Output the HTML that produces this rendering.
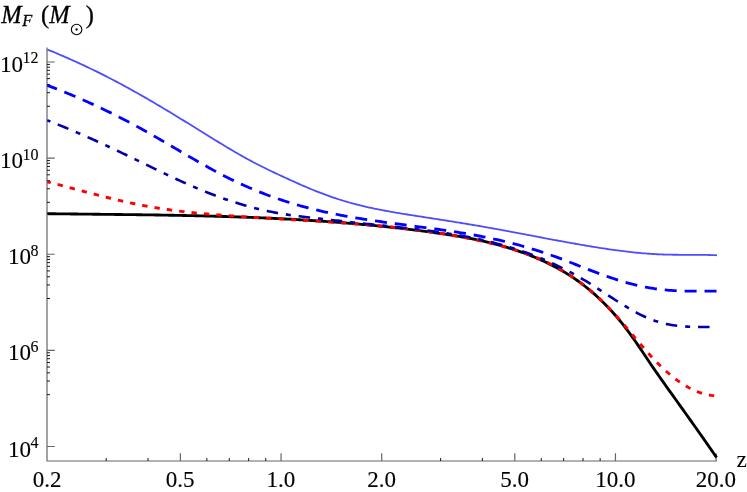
<!DOCTYPE html>
<html lang="en"><head><meta charset="utf-8"><title>M_F vs z</title>
<style>html,body{margin:0;padding:0;background:#fff;}svg{display:block;will-change:transform;}</style></head>
<body><svg width="747" height="492" viewBox="0 0 747 492">
<rect width="747" height="492" fill="#fff"/>
<path d="M47.00,47.40 V461.00 H716.9" fill="none" stroke="#666" stroke-width="1.2"/>
<path d="M47.00,62.00 h7.8 M47.00,158.12 h7.8 M47.00,254.25 h7.8 M47.00,350.38 h7.8 M47.00,446.50 h7.8 M180.40,461.00 v-7.8 M281.06,461.00 v-7.8 M381.72,461.00 v-7.8 M514.79,461.00 v-7.8 M615.45,461.00 v-7.8 M716.11,461.00 v-7.8" fill="none" stroke="#666" stroke-width="1.2"/>
<path d="M47.00,106.26 h3.0 M47.00,92.68 h3.0 M47.00,84.52 h3.0 M47.00,78.67 h3.0 M47.00,74.10 h3.0 M47.00,70.36 h3.0 M47.00,67.19 h3.0 M47.00,64.43 h3.0 M47.00,202.38 h3.0 M47.00,188.80 h3.0 M47.00,180.64 h3.0 M47.00,174.79 h3.0 M47.00,170.23 h3.0 M47.00,166.48 h3.0 M47.00,163.31 h3.0 M47.00,160.56 h3.0 M47.00,298.51 h3.0 M47.00,284.93 h3.0 M47.00,276.77 h3.0 M47.00,270.92 h3.0 M47.00,266.35 h3.0 M47.00,262.61 h3.0 M47.00,259.44 h3.0 M47.00,256.68 h3.0 M47.00,394.63 h3.0 M47.00,381.05 h3.0 M47.00,372.89 h3.0 M47.00,367.04 h3.0 M47.00,362.48 h3.0 M47.00,358.73 h3.0 M47.00,355.56 h3.0 M47.00,352.81 h3.0 M106.21,461.00 v-3.0 M147.99,461.00 v-3.0 M206.87,461.00 v-3.0 M229.26,461.00 v-3.0 M248.65,461.00 v-3.0 M265.76,461.00 v-3.0 M440.60,461.00 v-3.0 M482.38,461.00 v-3.0 M541.26,461.00 v-3.0 M563.65,461.00 v-3.0 M583.04,461.00 v-3.0 M600.15,461.00 v-3.0" fill="none" stroke="#000" stroke-width="0.9"/>
<path d="M47.30,213.70 L49.30,213.72 L51.30,213.74 L53.30,213.77 L55.30,213.79 L57.30,213.82 L59.30,213.84 L61.30,213.86 L63.30,213.89 L65.30,213.91 L67.30,213.93 L69.30,213.95 L71.30,213.98 L73.30,214.00 L75.30,214.02 L77.30,214.04 L79.30,214.06 L81.30,214.09 L83.30,214.11 L85.30,214.13 L87.30,214.15 L89.30,214.17 L91.30,214.19 L93.30,214.21 L95.30,214.24 L97.30,214.26 L99.30,214.28 L101.30,214.30 L103.30,214.32 L105.30,214.34 L107.30,214.37 L109.30,214.39 L111.30,214.41 L113.30,214.43 L115.30,214.46 L117.30,214.48 L119.30,214.50 L121.30,214.52 L123.30,214.55 L125.30,214.57 L127.30,214.60 L129.30,214.62 L131.30,214.65 L133.30,214.67 L135.30,214.70 L137.30,214.72 L139.30,214.75 L141.30,214.78 L143.30,214.80 L145.30,214.83 L147.30,214.86 L149.30,214.89 L151.30,214.92 L153.30,214.95 L155.30,214.98 L157.30,215.01 L159.30,215.04 L161.30,215.07 L163.30,215.11 L165.30,215.14 L167.30,215.17 L169.30,215.21 L171.30,215.24 L173.30,215.28 L175.30,215.32 L177.30,215.36 L179.30,215.39 L181.30,215.43 L183.30,215.47 L185.30,215.51 L187.30,215.56 L189.30,215.60 L191.30,215.64 L193.30,215.69 L195.30,215.73 L197.30,215.78 L199.30,215.82 L201.30,215.87 L203.30,215.92 L205.30,215.97 L207.30,216.02 L209.30,216.07 L211.30,216.13 L213.30,216.18 L215.30,216.23 L217.30,216.29 L219.30,216.35 L221.30,216.41 L223.30,216.47 L225.30,216.53 L227.30,216.59 L229.30,216.65 L231.30,216.72 L233.30,216.78 L235.30,216.85 L237.30,216.92 L239.30,216.98 L241.30,217.05 L243.30,217.13 L245.30,217.20 L247.30,217.27 L249.30,217.35 L251.30,217.43 L253.30,217.51 L255.30,217.59 L257.30,217.67 L259.30,217.75 L261.30,217.83 L263.30,217.92 L265.30,218.01 L267.30,218.10 L269.30,218.19 L271.30,218.28 L273.30,218.37 L275.30,218.47 L277.30,218.56 L279.30,218.66 L281.30,218.76 L283.30,218.86 L285.30,218.97 L287.30,219.07 L289.30,219.18 L291.30,219.29 L293.30,219.40 L295.30,219.51 L297.30,219.62 L299.30,219.74 L301.30,219.86 L303.30,219.97 L305.30,220.10 L307.30,220.22 L309.30,220.34 L311.30,220.47 L313.30,220.60 L315.30,220.73 L317.30,220.86 L319.30,220.99 L321.30,221.13 L323.30,221.27 L325.30,221.41 L327.30,221.55 L329.30,221.70 L331.30,221.84 L333.30,221.99 L335.30,222.14 L337.30,222.30 L339.30,222.45 L341.30,222.61 L343.30,222.77 L345.30,222.93 L347.30,223.09 L349.30,223.26 L351.30,223.43 L353.30,223.60 L355.30,223.77 L357.30,223.94 L359.30,224.12 L361.30,224.30 L363.30,224.48 L365.30,224.67 L367.30,224.85 L369.30,225.04 L371.30,225.23 L373.30,225.43 L375.30,225.62 L377.30,225.82 L379.30,226.02 L381.30,226.23 L383.30,226.43 L385.30,226.64 L387.30,226.85 L389.30,227.07 L391.30,227.29 L393.30,227.50 L395.30,227.73 L397.30,227.95 L399.30,228.18 L401.30,228.41 L403.30,228.64 L405.30,228.87 L407.30,229.11 L409.30,229.35 L411.30,229.60 L413.30,229.84 L415.30,230.09 L417.30,230.34 L419.30,230.60 L421.30,230.86 L423.30,231.12 L425.30,231.38 L427.30,231.65 L429.30,231.91 L431.30,232.19 L433.30,232.46 L435.30,232.74 L437.30,233.02 L439.30,233.31 L441.30,233.59 L443.30,233.89 L445.30,234.19 L447.30,234.49 L449.30,234.80 L451.30,235.11 L453.30,235.43 L455.30,235.76 L457.30,236.09 L459.30,236.43 L461.30,236.77 L463.30,237.13 L465.30,237.49 L467.30,237.86 L469.30,238.24 L471.30,238.62 L473.30,239.02 L475.30,239.42 L477.30,239.84 L479.30,240.26 L481.30,240.70 L483.30,241.14 L485.30,241.60 L487.30,242.07 L489.30,242.55 L491.30,243.04 L493.30,243.54 L495.30,244.06 L497.30,244.59 L499.30,245.13 L501.30,245.68 L503.30,246.25 L505.30,246.83 L507.30,247.43 L509.30,248.04 L511.30,248.67 L513.30,249.31 L515.30,249.97 L517.30,250.64 L519.30,251.34 L521.30,252.04 L523.30,252.77 L525.30,253.51 L527.30,254.26 L529.30,255.04 L531.30,255.84 L533.30,256.65 L535.30,257.48 L537.30,258.33 L539.30,259.20 L541.30,260.09 L543.30,261.00 L545.30,261.93 L547.30,262.89 L549.30,263.86 L551.30,264.86 L553.30,265.89 L555.30,266.94 L557.30,268.02 L559.30,269.13 L561.30,270.27 L563.30,271.43 L565.30,272.63 L567.30,273.86 L569.30,275.12 L571.30,276.42 L573.30,277.74 L575.30,279.11 L577.30,280.51 L579.30,281.95 L581.30,283.43 L583.30,284.94 L585.30,286.50 L587.30,288.10 L589.30,289.74 L591.30,291.42 L593.30,293.15 L595.30,294.92 L597.30,296.73 L599.30,298.60 L601.30,300.51 L603.30,302.47 L605.30,304.48 L607.30,306.54 L609.30,308.65 L611.30,310.82 L613.30,313.03 L615.30,315.31 L617.30,317.63 L619.30,320.02 L621.30,322.46 L623.30,324.95 L625.30,327.51 L627.30,330.13 L629.30,332.81 L631.30,335.55 L633.30,338.35 L635.30,341.21 L637.30,344.13 L639.30,347.08 L641.30,350.06 L643.30,353.06 L645.30,356.06 L647.30,359.05 L649.30,362.02 L651.30,364.96 L653.30,367.88 L655.30,370.78 L657.30,373.65 L659.30,376.51 L661.30,379.35 L663.30,382.18 L665.30,385.00 L667.30,387.81 L669.30,390.61 L671.30,393.40 L673.30,396.20 L675.30,398.99 L677.30,401.78 L679.30,404.57 L681.30,407.37 L683.30,410.17 L685.30,412.97 L687.30,415.78 L689.30,418.59 L691.30,421.40 L693.30,424.22 L695.30,427.04 L697.30,429.87 L699.30,432.71 L701.30,435.55 L703.30,438.39 L705.30,441.25 L707.30,444.11 L709.30,446.97 L711.30,449.85 L713.30,452.73 L715.30,455.62 L716.60,457.50" fill="none" stroke="#000" stroke-width="2.85" stroke-linejoin="round"/>
<path d="M47.30,181.81 L49.30,182.32 L51.30,182.83 L53.30,183.35 L55.30,183.86 L57.30,184.39 L59.30,184.91 L61.30,185.44 L63.30,185.96 L65.30,186.49 L67.30,187.02 L69.30,187.55 L71.30,188.08 L73.30,188.62 L75.30,189.15 L77.30,189.68 L79.30,190.21 L81.30,190.74 L83.30,191.27 L85.30,191.80 L87.30,192.33 L89.30,192.86 L91.30,193.38 L93.30,193.90 L95.30,194.42 L97.30,194.94 L99.30,195.46 L101.30,195.97 L103.30,196.47 L105.30,196.98 L107.30,197.48 L109.30,197.98 L111.30,198.47 L113.30,198.96 L115.30,199.44 L117.30,199.91 L119.30,200.39 L121.30,200.85 L123.30,201.31 L125.30,201.77 L127.30,202.21 L129.30,202.66 L131.30,203.09 L133.30,203.52 L135.30,203.94 L137.30,204.35 L139.30,204.75 L141.30,205.15 L143.30,205.54 L145.30,205.91 L147.30,206.28 L149.30,206.65 L151.30,207.00 L153.30,207.34 L155.30,207.68 L157.30,208.01 L159.30,208.33 L161.30,208.64 L163.30,208.94 L165.30,209.24 L167.30,209.53 L169.30,209.81 L171.30,210.09 L173.30,210.36 L175.30,210.62 L177.30,210.88 L179.30,211.13 L181.30,211.37 L183.30,211.61 L185.30,211.84 L187.30,212.07 L189.30,212.29 L191.30,212.50 L193.30,212.71 L195.30,212.92 L197.30,213.12 L199.30,213.31 L201.30,213.50 L203.30,213.69 L205.30,213.87 L207.30,214.05 L209.30,214.22 L211.30,214.39 L213.30,214.56 L215.30,214.72 L217.30,214.88 L219.30,215.03 L221.30,215.19 L223.30,215.34 L225.30,215.48 L227.30,215.63 L229.30,215.77 L231.30,215.91 L233.30,216.05 L235.30,216.18 L237.30,216.32 L239.30,216.45 L241.30,216.58 L243.30,216.71 L245.30,216.84 L247.30,216.96 L249.30,217.09 L251.30,217.21 L253.30,217.34 L255.30,217.46 L257.30,217.58 L259.30,217.70 L261.30,217.83 L263.30,217.95 L265.30,218.07 L267.30,218.18 L269.30,218.30 L271.30,218.42 L273.30,218.54 L275.30,218.66 L277.30,218.77 L279.30,218.89 L281.30,219.01 L283.30,219.13 L285.30,219.24 L287.30,219.36 L289.30,219.48 L291.30,219.60 L293.30,219.71 L295.30,219.83 L297.30,219.95 L299.30,220.07 L301.30,220.19 L303.30,220.31 L305.30,220.43 L307.30,220.55 L309.30,220.68 L311.30,220.80 L313.30,220.92 L315.30,221.05 L317.30,221.17 L319.30,221.30 L321.30,221.43 L323.30,221.56 L325.30,221.69 L327.30,221.82 L329.30,221.96 L331.30,222.09 L333.30,222.23 L335.30,222.36 L337.30,222.50 L339.30,222.65 L341.30,222.79 L343.30,222.93 L345.30,223.08 L347.30,223.23 L349.30,223.38 L351.30,223.53 L353.30,223.68 L355.30,223.84 L357.30,224.00 L359.30,224.16 L361.30,224.32 L363.30,224.49 L365.30,224.66 L367.30,224.83 L369.30,225.00 L371.30,225.18 L373.30,225.36 L375.30,225.54 L377.30,225.72 L379.30,225.91 L381.30,226.10 L383.30,226.29 L385.30,226.49 L387.30,226.69 L389.30,226.89 L391.30,227.10 L393.30,227.30 L395.30,227.52 L397.30,227.73 L399.30,227.95 L401.30,228.17 L403.30,228.40 L405.30,228.63 L407.30,228.86 L409.30,229.10 L411.30,229.34 L413.30,229.59 L415.30,229.84 L417.30,230.09 L419.30,230.35 L421.30,230.61 L423.30,230.87 L425.30,231.14 L427.30,231.42 L429.30,231.70 L431.30,231.98 L433.30,232.27 L435.30,232.56 L437.30,232.86 L439.30,233.17 L441.30,233.48 L443.30,233.79 L445.30,234.11 L447.30,234.44 L449.30,234.77 L451.30,235.11 L453.30,235.46 L455.30,235.81 L457.30,236.17 L459.30,236.53 L461.30,236.90 L463.30,237.28 L465.30,237.67 L467.30,238.06 L469.30,238.46 L471.30,238.87 L473.30,239.28 L475.30,239.70 L477.30,240.13 L479.30,240.57 L481.30,241.02 L483.30,241.47 L485.30,241.93 L487.30,242.41 L489.30,242.89 L491.30,243.37 L493.30,243.87 L495.30,244.38 L497.30,244.89 L499.30,245.42 L501.30,245.95 L503.30,246.50 L505.30,247.05 L507.30,247.62 L509.30,248.20 L511.30,248.79 L513.30,249.39 L515.30,250.01 L517.30,250.65 L519.30,251.30 L521.30,251.96 L523.30,252.65 L525.30,253.35 L527.30,254.07 L529.30,254.81 L531.30,255.57 L533.30,256.35 L535.30,257.15 L537.30,257.98 L539.30,258.83 L541.30,259.70 L543.30,260.60 L545.30,261.52 L547.30,262.47 L549.30,263.44 L551.30,264.45 L553.30,265.48 L555.30,266.54 L557.30,267.63 L559.30,268.75 L561.30,269.90 L563.30,271.09 L565.30,272.30 L567.30,273.55 L569.30,274.84 L571.30,276.16 L573.30,277.51 L575.30,278.91 L577.30,280.34 L579.30,281.80 L581.30,283.31 L583.30,284.85 L585.30,286.43 L587.30,288.06 L589.30,289.72 L591.30,291.42 L593.30,293.16 L595.30,294.93 L597.30,296.75 L599.30,298.61 L601.30,300.50 L603.30,302.43 L605.30,304.41 L607.30,306.42 L609.30,308.47 L611.30,310.56 L613.30,312.69 L615.30,314.85 L617.30,317.06 L619.30,319.30 L621.30,321.58 L623.30,323.89 L625.30,326.23 L627.30,328.58 L629.30,330.95 L631.30,333.33 L633.30,335.71 L635.30,338.09 L637.30,340.47 L639.30,342.83 L641.30,345.18 L643.30,347.50 L645.30,349.80 L647.30,352.07 L649.30,354.30 L651.30,356.49 L653.30,358.64 L655.30,360.73 L657.30,362.78 L659.30,364.78 L661.30,366.73 L663.30,368.63 L665.30,370.48 L667.30,372.27 L669.30,374.00 L671.30,375.68 L673.30,377.30 L675.30,378.85 L677.30,380.35 L679.30,381.78 L681.30,383.14 L683.30,384.44 L685.30,385.68 L687.30,386.84 L689.30,387.93 L691.30,388.95 L693.30,389.91 L695.30,390.79 L697.30,391.60 L699.30,392.34 L701.30,393.01 L703.30,393.62 L705.30,394.15 L707.30,394.62 L709.30,395.02 L711.30,395.36 L713.30,395.62 L715.30,395.82 L717.00,395.94" fill="none" stroke="#ff0000" stroke-width="2.9" stroke-dasharray="5.4 7.054" stroke-dashoffset="1.83" stroke-linejoin="round"/>
<path d="M47.30,120.31 L49.30,121.09 L51.30,121.88 L53.30,122.67 L55.30,123.47 L57.30,124.28 L59.30,125.09 L61.30,125.91 L63.30,126.73 L65.30,127.55 L67.30,128.39 L69.30,129.22 L71.30,130.06 L73.30,130.91 L75.30,131.76 L77.30,132.62 L79.30,133.48 L81.30,134.35 L83.30,135.22 L85.30,136.09 L87.30,136.97 L89.30,137.86 L91.30,138.75 L93.30,139.64 L95.30,140.54 L97.30,141.44 L99.30,142.35 L101.30,143.26 L103.30,144.18 L105.30,145.10 L107.30,146.02 L109.30,146.95 L111.30,147.88 L113.30,148.82 L115.30,149.76 L117.30,150.70 L119.30,151.65 L121.30,152.60 L123.30,153.56 L125.30,154.52 L127.30,155.48 L129.30,156.45 L131.30,157.41 L133.30,158.38 L135.30,159.36 L137.30,160.33 L139.30,161.30 L141.30,162.28 L143.30,163.25 L145.30,164.23 L147.30,165.20 L149.30,166.18 L151.30,167.15 L153.30,168.12 L155.30,169.09 L157.30,170.06 L159.30,171.02 L161.30,171.98 L163.30,172.94 L165.30,173.90 L167.30,174.85 L169.30,175.79 L171.30,176.73 L173.30,177.67 L175.30,178.60 L177.30,179.53 L179.30,180.44 L181.30,181.36 L183.30,182.26 L185.30,183.16 L187.30,184.05 L189.30,184.93 L191.30,185.80 L193.30,186.67 L195.30,187.52 L197.30,188.37 L199.30,189.21 L201.30,190.03 L203.30,190.85 L205.30,191.66 L207.30,192.45 L209.30,193.24 L211.30,194.02 L213.30,194.78 L215.30,195.54 L217.30,196.28 L219.30,197.01 L221.30,197.74 L223.30,198.45 L225.30,199.15 L227.30,199.83 L229.30,200.51 L231.30,201.18 L233.30,201.83 L235.30,202.47 L237.30,203.10 L239.30,203.72 L241.30,204.32 L243.30,204.92 L245.30,205.50 L247.30,206.06 L249.30,206.62 L251.30,207.16 L253.30,207.69 L255.30,208.21 L257.30,208.71 L259.30,209.20 L261.30,209.67 L263.30,210.14 L265.30,210.59 L267.30,211.02 L269.30,211.44 L271.30,211.85 L273.30,212.24 L275.30,212.62 L277.30,212.98 L279.30,213.33 L281.30,213.67 L283.30,214.00 L285.30,214.32 L287.30,214.63 L289.30,214.93 L291.30,215.21 L293.30,215.49 L295.30,215.77 L297.30,216.03 L299.30,216.29 L301.30,216.54 L303.30,216.79 L305.30,217.03 L307.30,217.26 L309.30,217.50 L311.30,217.73 L313.30,217.96 L315.30,218.18 L317.30,218.41 L319.30,218.63 L321.30,218.85 L323.30,219.08 L325.30,219.30 L327.30,219.53 L329.30,219.75 L331.30,219.97 L333.30,220.20 L335.30,220.42 L337.30,220.65 L339.30,220.87 L341.30,221.09 L343.30,221.32 L345.30,221.54 L347.30,221.76 L349.30,221.98 L351.30,222.20 L353.30,222.42 L355.30,222.64 L357.30,222.86 L359.30,223.07 L361.30,223.29 L363.30,223.50 L365.30,223.72 L367.30,223.93 L369.30,224.14 L371.30,224.35 L373.30,224.56 L375.30,224.77 L377.30,224.98 L379.30,225.18 L381.30,225.39 L383.30,225.60 L385.30,225.80 L387.30,226.01 L389.30,226.22 L391.30,226.43 L393.30,226.64 L395.30,226.85 L397.30,227.06 L399.30,227.27 L401.30,227.49 L403.30,227.70 L405.30,227.92 L407.30,228.14 L409.30,228.37 L411.30,228.59 L413.30,228.82 L415.30,229.05 L417.30,229.29 L419.30,229.53 L421.30,229.77 L423.30,230.02 L425.30,230.27 L427.30,230.52 L429.30,230.78 L431.30,231.05 L433.30,231.32 L435.30,231.59 L437.30,231.87 L439.30,232.15 L441.30,232.44 L443.30,232.74 L445.30,233.04 L447.30,233.35 L449.30,233.67 L451.30,233.99 L453.30,234.32 L455.30,234.65 L457.30,234.99 L459.30,235.34 L461.30,235.70 L463.30,236.07 L465.30,236.44 L467.30,236.82 L469.30,237.21 L471.30,237.61 L473.30,238.02 L475.30,238.44 L477.30,238.86 L479.30,239.30 L481.30,239.74 L483.30,240.20 L485.30,240.66 L487.30,241.14 L489.30,241.62 L491.30,242.12 L493.30,242.62 L495.30,243.14 L497.30,243.67 L499.30,244.21 L501.30,244.76 L503.30,245.32 L505.30,245.90 L507.30,246.49 L509.30,247.08 L511.30,247.70 L513.30,248.32 L515.30,248.96 L517.30,249.61 L519.30,250.27 L521.30,250.95 L523.30,251.64 L525.30,252.34 L527.30,253.06 L529.30,253.79 L531.30,254.53 L533.30,255.29 L535.30,256.07 L537.30,256.86 L539.30,257.66 L541.30,258.48 L543.30,259.31 L545.30,260.16 L547.30,261.03 L549.30,261.91 L551.30,262.81 L553.30,263.73 L555.30,264.66 L557.30,265.60 L559.30,266.57 L561.30,267.55 L563.30,268.55 L565.30,269.56 L567.30,270.60 L569.30,271.65 L571.30,272.72 L573.30,273.80 L575.30,274.91 L577.30,276.03 L579.30,277.17 L581.30,278.34 L583.30,279.52 L585.30,280.72 L587.30,281.93 L589.30,283.17 L591.30,284.42 L593.30,285.69 L595.30,286.97 L597.30,288.26 L599.30,289.55 L601.30,290.86 L603.30,292.16 L605.30,293.47 L607.30,294.78 L609.30,296.08 L611.30,297.39 L613.30,298.68 L615.30,299.97 L617.30,301.25 L619.30,302.51 L621.30,303.76 L623.30,305.00 L625.30,306.22 L627.30,307.41 L629.30,308.59 L631.30,309.74 L633.30,310.86 L635.30,311.96 L637.30,313.03 L639.30,314.06 L641.30,315.06 L643.30,316.03 L645.30,316.95 L647.30,317.84 L649.30,318.68 L651.30,319.48 L653.30,320.23 L655.30,320.94 L657.30,321.59 L659.30,322.20 L661.30,322.76 L663.30,323.27 L665.30,323.74 L667.30,324.17 L669.30,324.56 L671.30,324.91 L673.30,325.22 L675.30,325.50 L677.30,325.75 L679.30,325.97 L681.30,326.16 L683.30,326.33 L685.30,326.47 L687.30,326.58 L689.30,326.68 L691.30,326.76 L693.30,326.82 L695.30,326.87 L697.30,326.90 L699.30,326.93 L701.30,326.94 L703.30,326.95 L705.30,326.95 L707.30,326.95 L709.30,326.95 L711.30,326.95 L713.30,326.95 L715.30,326.95 L717.00,326.96" fill="none" stroke="#0000aa" stroke-width="2.6" stroke-dasharray="11.5 7.935 5 7.935" stroke-dashoffset="21.1" stroke-linejoin="round"/>
<path d="M47.30,85.31 L49.30,86.07 L51.30,86.84 L53.30,87.61 L55.30,88.39 L57.30,89.17 L59.30,89.97 L61.30,90.77 L63.30,91.58 L65.30,92.39 L67.30,93.21 L69.30,94.04 L71.30,94.88 L73.30,95.72 L75.30,96.57 L77.30,97.42 L79.30,98.29 L81.30,99.16 L83.30,100.04 L85.30,100.92 L87.30,101.82 L89.30,102.72 L91.30,103.63 L93.30,104.54 L95.30,105.46 L97.30,106.39 L99.30,107.33 L101.30,108.28 L103.30,109.23 L105.30,110.19 L107.30,111.16 L109.30,112.13 L111.30,113.12 L113.30,114.11 L115.30,115.11 L117.30,116.11 L119.30,117.13 L121.30,118.15 L123.30,119.18 L125.30,120.22 L127.30,121.27 L129.30,122.32 L131.30,123.38 L133.30,124.45 L135.30,125.53 L137.30,126.62 L139.30,127.71 L141.30,128.82 L143.30,129.93 L145.30,131.05 L147.30,132.17 L149.30,133.30 L151.30,134.44 L153.30,135.59 L155.30,136.74 L157.30,137.89 L159.30,139.05 L161.30,140.21 L163.30,141.37 L165.30,142.54 L167.30,143.71 L169.30,144.88 L171.30,146.06 L173.30,147.23 L175.30,148.40 L177.30,149.58 L179.30,150.75 L181.30,151.92 L183.30,153.09 L185.30,154.26 L187.30,155.43 L189.30,156.59 L191.30,157.75 L193.30,158.90 L195.30,160.05 L197.30,161.20 L199.30,162.34 L201.30,163.47 L203.30,164.60 L205.30,165.72 L207.30,166.83 L209.30,167.93 L211.30,169.03 L213.30,170.12 L215.30,171.19 L217.30,172.26 L219.30,173.32 L221.30,174.36 L223.30,175.40 L225.30,176.42 L227.30,177.43 L229.30,178.43 L231.30,179.41 L233.30,180.38 L235.30,181.34 L237.30,182.29 L239.30,183.22 L241.30,184.14 L243.30,185.05 L245.30,185.94 L247.30,186.82 L249.30,187.69 L251.30,188.54 L253.30,189.39 L255.30,190.22 L257.30,191.04 L259.30,191.84 L261.30,192.64 L263.30,193.42 L265.30,194.19 L267.30,194.94 L269.30,195.69 L271.30,196.42 L273.30,197.15 L275.30,197.86 L277.30,198.55 L279.30,199.24 L281.30,199.92 L283.30,200.58 L285.30,201.23 L287.30,201.87 L289.30,202.50 L291.30,203.12 L293.30,203.73 L295.30,204.32 L297.30,204.91 L299.30,205.48 L301.30,206.04 L303.30,206.60 L305.30,207.14 L307.30,207.67 L309.30,208.19 L311.30,208.70 L313.30,209.20 L315.30,209.69 L317.30,210.17 L319.30,210.64 L321.30,211.11 L323.30,211.56 L325.30,212.01 L327.30,212.44 L329.30,212.87 L331.30,213.29 L333.30,213.70 L335.30,214.11 L337.30,214.50 L339.30,214.89 L341.30,215.28 L343.30,215.65 L345.30,216.02 L347.30,216.38 L349.30,216.74 L351.30,217.09 L353.30,217.43 L355.30,217.77 L357.30,218.10 L359.30,218.43 L361.30,218.75 L363.30,219.07 L365.30,219.38 L367.30,219.69 L369.30,220.00 L371.30,220.30 L373.30,220.59 L375.30,220.89 L377.30,221.18 L379.30,221.46 L381.30,221.74 L383.30,222.02 L385.30,222.30 L387.30,222.58 L389.30,222.85 L391.30,223.12 L393.30,223.39 L395.30,223.65 L397.30,223.92 L399.30,224.18 L401.30,224.45 L403.30,224.71 L405.30,224.97 L407.30,225.23 L409.30,225.49 L411.30,225.75 L413.30,226.01 L415.30,226.27 L417.30,226.54 L419.30,226.80 L421.30,227.06 L423.30,227.33 L425.30,227.59 L427.30,227.86 L429.30,228.13 L431.30,228.40 L433.30,228.67 L435.30,228.95 L437.30,229.23 L439.30,229.51 L441.30,229.79 L443.30,230.08 L445.30,230.37 L447.30,230.66 L449.30,230.96 L451.30,231.26 L453.30,231.57 L455.30,231.88 L457.30,232.19 L459.30,232.51 L461.30,232.83 L463.30,233.16 L465.30,233.49 L467.30,233.83 L469.30,234.18 L471.30,234.53 L473.30,234.89 L475.30,235.25 L477.30,235.62 L479.30,236.00 L481.30,236.38 L483.30,236.77 L485.30,237.17 L487.30,237.57 L489.30,237.99 L491.30,238.41 L493.30,238.84 L495.30,239.27 L497.30,239.72 L499.30,240.17 L501.30,240.63 L503.30,241.11 L505.30,241.59 L507.30,242.08 L509.30,242.58 L511.30,243.08 L513.30,243.60 L515.30,244.13 L517.30,244.66 L519.30,245.21 L521.30,245.76 L523.30,246.33 L525.30,246.90 L527.30,247.48 L529.30,248.07 L531.30,248.68 L533.30,249.29 L535.30,249.91 L537.30,250.54 L539.30,251.18 L541.30,251.84 L543.30,252.50 L545.30,253.17 L547.30,253.85 L549.30,254.54 L551.30,255.25 L553.30,255.96 L555.30,256.68 L557.30,257.42 L559.30,258.16 L561.30,258.91 L563.30,259.67 L565.30,260.44 L567.30,261.22 L569.30,262.00 L571.30,262.78 L573.30,263.57 L575.30,264.36 L577.30,265.15 L579.30,265.94 L581.30,266.73 L583.30,267.52 L585.30,268.30 L587.30,269.09 L589.30,269.86 L591.30,270.63 L593.30,271.40 L595.30,272.16 L597.30,272.90 L599.30,273.64 L601.30,274.37 L603.30,275.10 L605.30,275.81 L607.30,276.51 L609.30,277.19 L611.30,277.87 L613.30,278.54 L615.30,279.19 L617.30,279.83 L619.30,280.45 L621.30,281.06 L623.30,281.66 L625.30,282.24 L627.30,282.80 L629.30,283.35 L631.30,283.89 L633.30,284.40 L635.30,284.90 L637.30,285.38 L639.30,285.84 L641.30,286.28 L643.30,286.70 L645.30,287.10 L647.30,287.48 L649.30,287.84 L651.30,288.18 L653.30,288.49 L655.30,288.79 L657.30,289.06 L659.30,289.31 L661.30,289.55 L663.30,289.77 L665.30,289.96 L667.30,290.14 L669.30,290.31 L671.30,290.45 L673.30,290.59 L675.30,290.70 L677.30,290.81 L679.30,290.90 L681.30,290.97 L683.30,291.04 L685.30,291.09 L687.30,291.13 L689.30,291.16 L691.30,291.19 L693.30,291.21 L695.30,291.22 L697.30,291.22 L699.30,291.22 L701.30,291.22 L703.30,291.21 L705.30,291.20 L707.30,291.19 L709.30,291.18 L711.30,291.18 L713.30,291.17 L715.30,291.16 L717.00,291.16" fill="none" stroke="#0000ff" stroke-width="2.8" stroke-dasharray="12 7.934" stroke-dashoffset="1.64" stroke-linejoin="round"/>
<path d="M47.30,49.49 L49.30,50.30 L51.30,51.12 L53.30,51.95 L55.30,52.78 L57.30,53.62 L59.30,54.47 L61.30,55.32 L63.30,56.18 L65.30,57.05 L67.30,57.92 L69.30,58.81 L71.30,59.70 L73.30,60.59 L75.30,61.50 L77.30,62.41 L79.30,63.33 L81.30,64.25 L83.30,65.18 L85.30,66.12 L87.30,67.07 L89.30,68.02 L91.30,68.99 L93.30,69.95 L95.30,70.93 L97.30,71.91 L99.30,72.90 L101.30,73.90 L103.30,74.90 L105.30,75.91 L107.30,76.93 L109.30,77.96 L111.30,78.99 L113.30,80.03 L115.30,81.08 L117.30,82.14 L119.30,83.20 L121.30,84.27 L123.30,85.35 L125.30,86.43 L127.30,87.52 L129.30,88.62 L131.30,89.73 L133.30,90.84 L135.30,91.96 L137.30,93.08 L139.30,94.22 L141.30,95.36 L143.30,96.50 L145.30,97.65 L147.30,98.81 L149.30,99.97 L151.30,101.14 L153.30,102.31 L155.30,103.49 L157.30,104.67 L159.30,105.85 L161.30,107.04 L163.30,108.24 L165.30,109.44 L167.30,110.64 L169.30,111.85 L171.30,113.06 L173.30,114.27 L175.30,115.49 L177.30,116.71 L179.30,117.93 L181.30,119.15 L183.30,120.38 L185.30,121.61 L187.30,122.84 L189.30,124.07 L191.30,125.31 L193.30,126.54 L195.30,127.78 L197.30,129.02 L199.30,130.26 L201.30,131.50 L203.30,132.74 L205.30,133.98 L207.30,135.22 L209.30,136.45 L211.30,137.69 L213.30,138.93 L215.30,140.16 L217.30,141.38 L219.30,142.61 L221.30,143.82 L223.30,145.04 L225.30,146.24 L227.30,147.44 L229.30,148.64 L231.30,149.82 L233.30,151.00 L235.30,152.17 L237.30,153.33 L239.30,154.47 L241.30,155.61 L243.30,156.74 L245.30,157.85 L247.30,158.95 L249.30,160.04 L251.30,161.12 L253.30,162.18 L255.30,163.22 L257.30,164.26 L259.30,165.28 L261.30,166.29 L263.30,167.29 L265.30,168.28 L267.30,169.25 L269.30,170.22 L271.30,171.19 L273.30,172.14 L275.30,173.09 L277.30,174.03 L279.30,174.96 L281.30,175.89 L283.30,176.82 L285.30,177.74 L287.30,178.66 L289.30,179.57 L291.30,180.48 L293.30,181.39 L295.30,182.29 L297.30,183.18 L299.30,184.07 L301.30,184.95 L303.30,185.82 L305.30,186.68 L307.30,187.53 L309.30,188.38 L311.30,189.21 L313.30,190.03 L315.30,190.84 L317.30,191.64 L319.30,192.43 L321.30,193.20 L323.30,193.96 L325.30,194.70 L327.30,195.43 L329.30,196.15 L331.30,196.85 L333.30,197.53 L335.30,198.20 L337.30,198.86 L339.30,199.50 L341.30,200.13 L343.30,200.74 L345.30,201.34 L347.30,201.93 L349.30,202.50 L351.30,203.06 L353.30,203.61 L355.30,204.14 L357.30,204.66 L359.30,205.16 L361.30,205.66 L363.30,206.14 L365.30,206.61 L367.30,207.07 L369.30,207.51 L371.30,207.95 L373.30,208.38 L375.30,208.79 L377.30,209.20 L379.30,209.60 L381.30,209.99 L383.30,210.37 L385.30,210.75 L387.30,211.11 L389.30,211.48 L391.30,211.83 L393.30,212.18 L395.30,212.52 L397.30,212.86 L399.30,213.19 L401.30,213.52 L403.30,213.85 L405.30,214.17 L407.30,214.49 L409.30,214.81 L411.30,215.13 L413.30,215.44 L415.30,215.75 L417.30,216.07 L419.30,216.38 L421.30,216.69 L423.30,217.00 L425.30,217.31 L427.30,217.62 L429.30,217.94 L431.30,218.25 L433.30,218.56 L435.30,218.87 L437.30,219.18 L439.30,219.50 L441.30,219.81 L443.30,220.13 L445.30,220.44 L447.30,220.76 L449.30,221.07 L451.30,221.39 L453.30,221.71 L455.30,222.03 L457.30,222.35 L459.30,222.68 L461.30,223.00 L463.30,223.33 L465.30,223.66 L467.30,223.99 L469.30,224.32 L471.30,224.65 L473.30,224.99 L475.30,225.33 L477.30,225.67 L479.30,226.01 L481.30,226.36 L483.30,226.71 L485.30,227.06 L487.30,227.41 L489.30,227.77 L491.30,228.13 L493.30,228.49 L495.30,228.85 L497.30,229.21 L499.30,229.58 L501.30,229.95 L503.30,230.32 L505.30,230.69 L507.30,231.06 L509.30,231.43 L511.30,231.81 L513.30,232.19 L515.30,232.56 L517.30,232.94 L519.30,233.32 L521.30,233.70 L523.30,234.08 L525.30,234.46 L527.30,234.84 L529.30,235.22 L531.30,235.60 L533.30,235.98 L535.30,236.36 L537.30,236.74 L539.30,237.12 L541.30,237.50 L543.30,237.88 L545.30,238.26 L547.30,238.63 L549.30,239.01 L551.30,239.39 L553.30,239.76 L555.30,240.13 L557.30,240.50 L559.30,240.87 L561.30,241.24 L563.30,241.61 L565.30,241.97 L567.30,242.33 L569.30,242.70 L571.30,243.05 L573.30,243.41 L575.30,243.76 L577.30,244.12 L579.30,244.46 L581.30,244.81 L583.30,245.15 L585.30,245.49 L587.30,245.83 L589.30,246.16 L591.30,246.50 L593.30,246.82 L595.30,247.15 L597.30,247.47 L599.30,247.78 L601.30,248.09 L603.30,248.40 L605.30,248.70 L607.30,249.00 L609.30,249.29 L611.30,249.58 L613.30,249.86 L615.30,250.13 L617.30,250.40 L619.30,250.67 L621.30,250.92 L623.30,251.18 L625.30,251.42 L627.30,251.66 L629.30,251.89 L631.30,252.11 L633.30,252.32 L635.30,252.53 L637.30,252.73 L639.30,252.92 L641.30,253.10 L643.30,253.28 L645.30,253.44 L647.30,253.60 L649.30,253.74 L651.30,253.88 L653.30,254.01 L655.30,254.12 L657.30,254.23 L659.30,254.33 L661.30,254.42 L663.30,254.49 L665.30,254.56 L667.30,254.61 L669.30,254.66 L671.30,254.70 L673.30,254.73 L675.30,254.75 L677.30,254.76 L679.30,254.78 L681.30,254.79 L683.30,254.79 L685.30,254.79 L687.30,254.80 L689.30,254.80 L691.30,254.80 L693.30,254.80 L695.30,254.81 L697.30,254.82 L699.30,254.84 L701.30,254.86 L703.30,254.88 L705.30,254.92 L707.30,254.96 L709.30,255.01 L711.30,255.07 L713.30,255.14 L715.30,255.22 L717.00,255.30" fill="none" stroke="#4d4dff" stroke-width="1.8" stroke-linejoin="round"/>
<g><text x="47.13" y="487.2" font-size="23" text-anchor="middle" font-family="Liberation Serif, serif" fill="#000" stroke="#000" stroke-width="0.12">0.2</text>
<text x="180.20" y="487.2" font-size="23" text-anchor="middle" font-family="Liberation Serif, serif" fill="#000" stroke="#000" stroke-width="0.12">0.5</text>
<text x="280.86" y="487.2" font-size="23" text-anchor="middle" font-family="Liberation Serif, serif" fill="#000" stroke="#000" stroke-width="0.12">1.0</text>
<text x="381.52" y="487.2" font-size="23" text-anchor="middle" font-family="Liberation Serif, serif" fill="#000" stroke="#000" stroke-width="0.12">2.0</text>
<text x="514.59" y="487.2" font-size="23" text-anchor="middle" font-family="Liberation Serif, serif" fill="#000" stroke="#000" stroke-width="0.12">5.0</text>
<text x="615.25" y="487.2" font-size="23" text-anchor="middle" font-family="Liberation Serif, serif" fill="#000" stroke="#000" stroke-width="0.12">10.0</text>
<text x="715.91" y="487.2" font-size="23" text-anchor="middle" font-family="Liberation Serif, serif" fill="#000" stroke="#000" stroke-width="0.12">20.0</text>
<text x="38.40" y="63.40" font-size="16" text-anchor="end" font-family="Liberation Serif, serif" fill="#000" stroke="#000" stroke-width="0.12">12</text>
<text x="23.00" y="72.00" font-size="23" text-anchor="end" font-family="Liberation Serif, serif" fill="#000" stroke="#000" stroke-width="0.12">10</text>
<text x="38.40" y="159.53" font-size="16" text-anchor="end" font-family="Liberation Serif, serif" fill="#000" stroke="#000" stroke-width="0.12">10</text>
<text x="23.00" y="168.12" font-size="23" text-anchor="end" font-family="Liberation Serif, serif" fill="#000" stroke="#000" stroke-width="0.12">10</text>
<text x="38.40" y="255.65" font-size="16" text-anchor="end" font-family="Liberation Serif, serif" fill="#000" stroke="#000" stroke-width="0.12">8</text>
<text x="31.00" y="264.25" font-size="23" text-anchor="end" font-family="Liberation Serif, serif" fill="#000" stroke="#000" stroke-width="0.12">10</text>
<text x="38.40" y="351.77" font-size="16" text-anchor="end" font-family="Liberation Serif, serif" fill="#000" stroke="#000" stroke-width="0.12">6</text>
<text x="31.00" y="360.38" font-size="23" text-anchor="end" font-family="Liberation Serif, serif" fill="#000" stroke="#000" stroke-width="0.12">10</text>
<text x="38.40" y="447.90" font-size="16" text-anchor="end" font-family="Liberation Serif, serif" fill="#000" stroke="#000" stroke-width="0.12">4</text>
<text x="31.00" y="456.50" font-size="23" text-anchor="end" font-family="Liberation Serif, serif" fill="#000" stroke="#000" stroke-width="0.12">10</text>
<text x="736.4" y="466.6" font-size="23.6" font-family="Liberation Serif, serif" fill="#000">z</text>
<text x="1.2" y="22.6" font-size="24.4" font-style="italic" font-family="Liberation Serif, serif" fill="#000" stroke="#000" stroke-width="0.3">M</text>
<text x="22.3" y="25.8" font-size="16.4" font-style="italic" font-family="Liberation Serif, serif" fill="#000" stroke="#000" stroke-width="0.3">F</text>
<text x="41.0" y="22.5" font-size="24.4" font-family="Liberation Serif, serif" fill="#000" stroke="#000" stroke-width="0.3">(</text>
<text x="49.2" y="22.6" font-size="24.4" font-style="italic" font-family="Liberation Serif, serif" fill="#000" stroke="#000" stroke-width="0.3">M</text>
<circle cx="76.6" cy="29.5" r="5.25" fill="none" stroke="#000" stroke-width="1.1"/><circle cx="76.6" cy="29.5" r="1.15" fill="#000"/>
<text x="85.7" y="22.5" font-size="24.4" font-family="Liberation Serif, serif" fill="#000" stroke="#000" stroke-width="0.3">)</text></g>
</svg></body></html>
